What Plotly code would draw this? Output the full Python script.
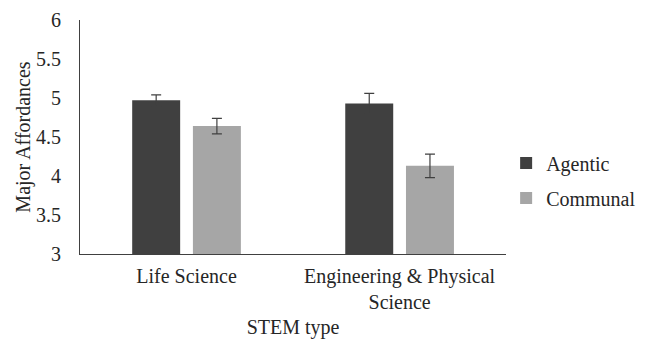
import plotly.graph_objects as go

categories = ["Life Science", "Engineering & Physical<br>Science"]
agentic = [4.97, 4.93]
agentic_err = [0.07, 0.13]
communal = [4.64, 4.13]
communal_err = [0.10, 0.15]
y_ticks = [3, 3.5, 4, 4.5, 5, 5.5, 6]

font = "Liberation Serif, Times New Roman, serif"

fig = go.Figure()
fig.add_trace(go.Bar(
    x=categories, y=[v - 3 for v in agentic], base=3, name="Agentic",
    legendgroup="a",
    marker=dict(color="#404040", line=dict(width=0)),
    error_y=dict(type="data", array=agentic_err, color="#404040", thickness=1.2, width=5),
))
fig.add_trace(go.Bar(
    x=categories, y=[v - 3 for v in communal], base=3, name="Communal",
    legendgroup="b",
    marker=dict(color="#a6a6a6", line=dict(width=0)),
    error_y=dict(type="data", array=communal_err, color="#404040", thickness=1.2, width=5),
))

# page body adds an 8px offset, so the figure is sized/margined to compensate
fig.update_layout(
    width=637, height=331,
    margin=dict(l=72, r=136, t=12, b=85),
    paper_bgcolor="white", plot_bgcolor="white",
    barmode="group", bargap=0.43, bargroupgap=0.21,
    font=dict(family=font, size=20, color="#262626"),
    legend=dict(xref="container", yref="container", x=0.782, y=0.479,
                xanchor="left", yanchor="middle",
                font=dict(size=20), itemwidth=30, tracegroupgap=6),
    showlegend=True,
)
fig.update_yaxes(
    range=[3, 6], tickvals=y_ticks, ticktext=[f"{t:g}" for t in y_ticks],
    showgrid=False, showline=True, linecolor="#404040", linewidth=1,
    ticks="outside", ticklen=14, tickcolor="white", zeroline=False,
    automargin=False,
    title=dict(text="Major Affordances", font=dict(size=20), standoff=0),
)
fig.update_xaxes(
    showgrid=False, showline=True, linecolor="#404040", linewidth=1,
    ticks="outside", ticklen=4, tickcolor="white", automargin=False,
    title=dict(text="STEM type", font=dict(size=20), standoff=7),
)

fig.write_html("out.html")
